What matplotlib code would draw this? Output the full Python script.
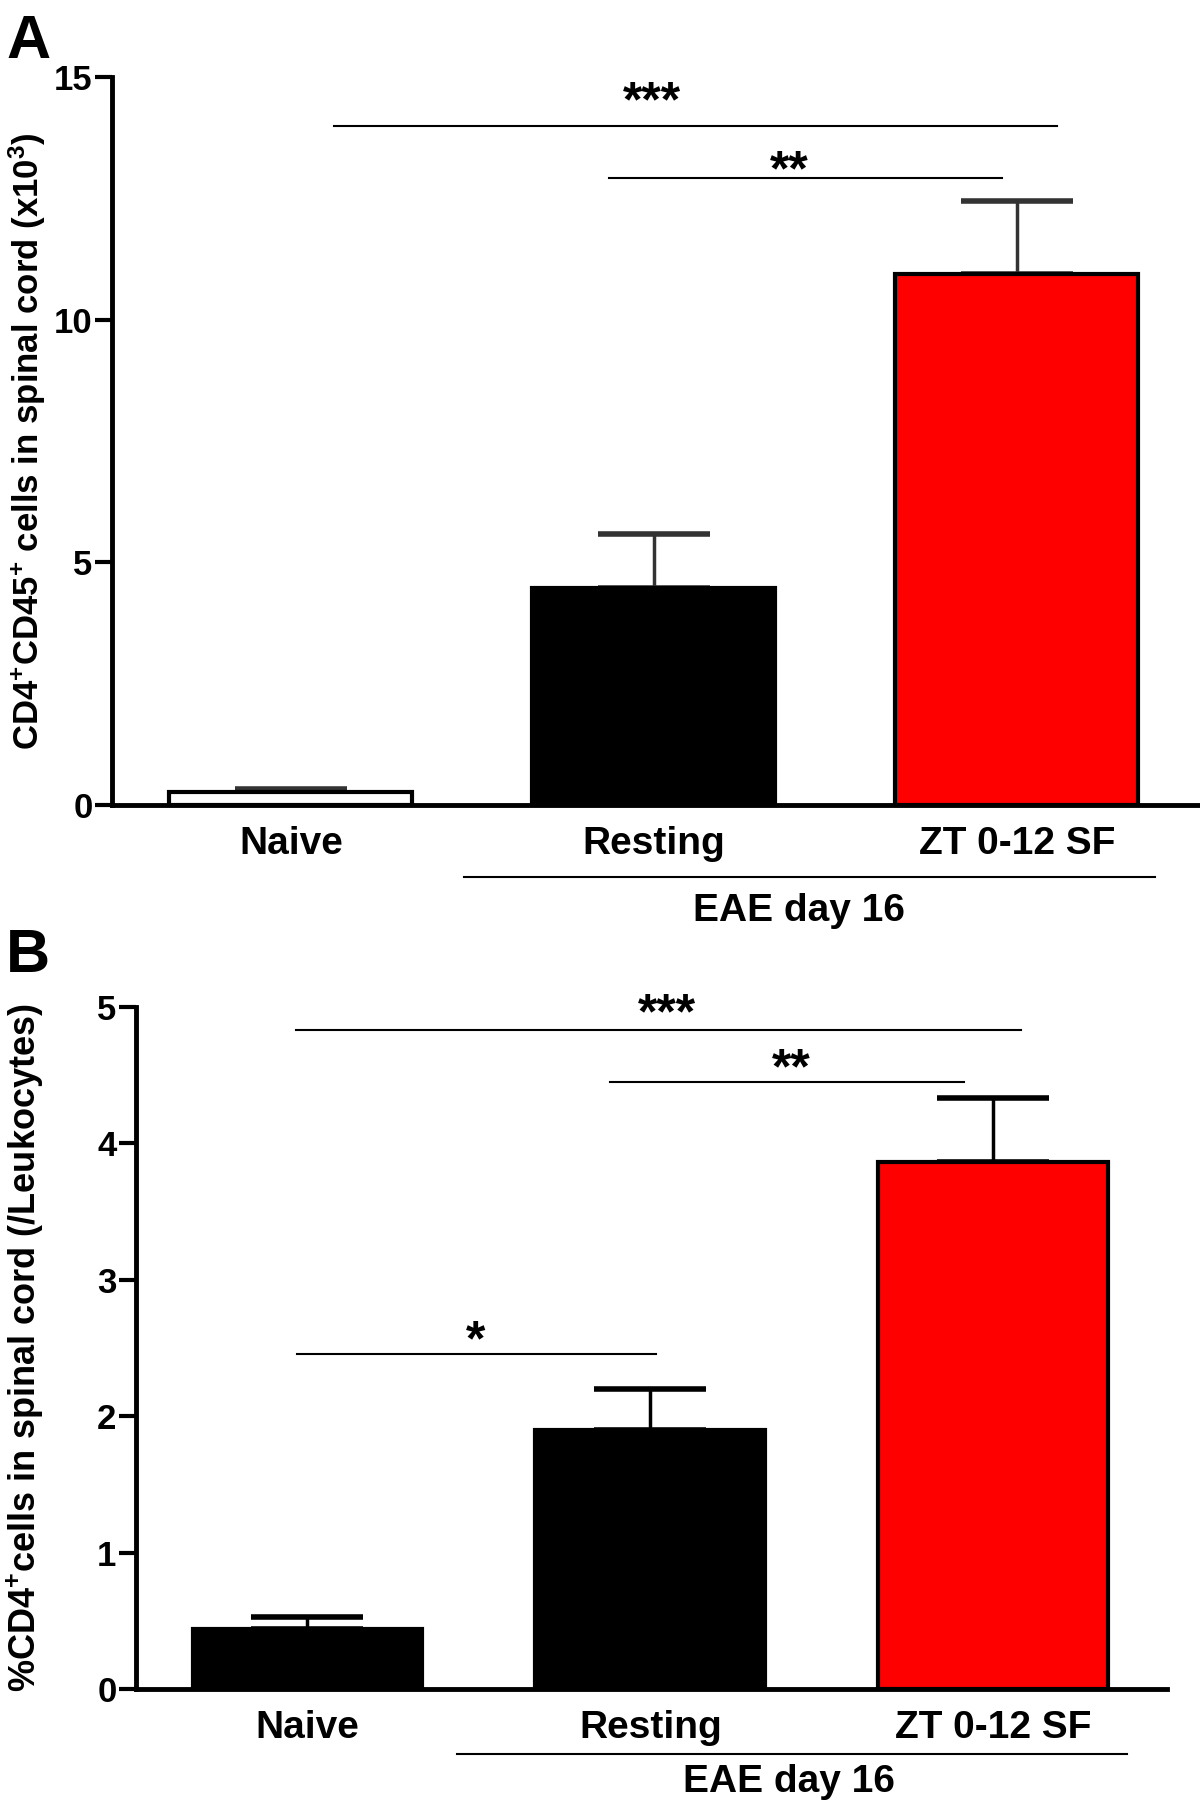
import matplotlib
matplotlib.use('Agg')
import matplotlib.pyplot as plt
import matplotlib.transforms as mtransforms

plt.rcParams['font.family'] = ['Liberation Sans', 'DejaVu Sans']
plt.rcParams['font.weight'] = 'bold'
plt.rcParams['mathtext.default'] = 'regular'

groups = ['Naive', 'Resting', 'ZT 0-12 SF']
group_label = 'EAE day 16'

# panel A: CD4+CD45+ cells (x10^3)
a_mean = [0.27, 4.47, 10.95]
a_err = [0.05, 1.12, 1.49]
a_colors = ['white', 'black', '#ff0000']
# (line start, line end, line y, stars, star x, star y)
a_sig = [(0.12, 2.11, 13.99, '***', 0.996, 14.67),
         (0.877, 1.96, 12.92, '**', 1.374, 13.25)]

# panel B: %CD4+ cells (/Leukocytes)
b_mean = [0.44, 1.90, 3.86]
b_err = [0.09, 0.30, 0.47]
b_colors = ['black', 'black', '#ff0000']
b_sig = [(-0.034, 2.08, 4.83, '***', 1.05, 5.02),
         (0.883, 1.916, 4.45, '**', 1.41, 4.61),
         (-0.03, 1.017, 2.455, '*', 0.49, 2.62)]

fig = plt.figure(figsize=(12, 18.04), dpi=100)
W, H = 1200, 1804


def make_axes(left, right, top, bottom):
    return fig.add_axes([left / W, 1 - bottom / H, (right - left) / W, (bottom - top) / H])


def draw_panel(ax, means, errs, colors, ecolor, sig, ymax, yticks, ylabel, ylabel_size,
               xlim, bracket, lab_x, lab_y, label_y_pos):
    x = range(len(means))
    ax.bar(x, means, width=0.67, color=colors, edgecolor='black', linewidth=3, zorder=2)
    ax.errorbar(x, means, yerr=[[0] * len(errs), errs], fmt='none', ecolor=ecolor,
                elinewidth=2.5, capsize=40, capthick=4, zorder=1)
    ax.set_xlim(*xlim)
    ax.set_ylim(0, ymax)
    ax.set_yticks(yticks)
    ax.set_xticks(list(x))
    ax.set_xticklabels(groups, fontsize=28, fontweight='bold')
    ax.tick_params(axis='x', length=0, pad=15)
    ax.tick_params(axis='y', length=12, width=3, labelsize=25, pad=2)
    for t in ax.get_yticklabels():
        t.set_fontweight('bold')
    for s in ['top', 'right']:
        ax.spines[s].set_visible(False)
    for s in ['left', 'bottom']:
        ax.spines[s].set_linewidth(3.5)
    ax.set_ylabel(ylabel, fontsize=ylabel_size, fontweight='bold')
    ax.yaxis.set_label_coords(label_y_pos, 0.5)

    for x0, x1, y, stars, sx, sy in sig:
        ax.plot([x0, x1], [y, y], color='black', lw=1.5, clip_on=False)
        # asterisks sit high in the font: shift the baseline down so the glyph centre lands on sy
        ax.annotate(stars, (sx, sy), xytext=(0, -17), textcoords='offset points',
                    ha='center', va='baseline', fontsize=36, fontweight='bold',
                    annotation_clip=False)

    trans = mtransforms.blended_transform_factory(ax.transData, ax.transAxes)
    ax.plot([bracket[0], bracket[1]], [bracket[2], bracket[2]], color='black', lw=1.5,
            transform=trans, clip_on=False)
    ax.text(lab_x, lab_y, group_label, transform=trans, ha='center', va='center',
            fontsize=28, fontweight='bold')


axA = make_axes(112, 1200, 77, 805)
draw_panel(axA, a_mean, a_err, a_colors, '#333333', a_sig, 15, [0, 5, 10, 15],
           r'CD4$^{+}$CD45$^{+}$ cells in spinal cord (x10$^{3}$)', 25, (-0.493, 2.505),
           (0.477, 2.38, -0.099), 1.40, -0.146, -0.059)

axB = make_axes(136, 1167, 1007, 1689)
draw_panel(axB, b_mean, b_err, b_colors, 'black', b_sig, 5, [0, 1, 2, 3, 4, 5],
           r'%CD4$^{+}$cells in spinal cord (/Leukocytes)', 26, (-0.5, 2.507),
           (0.436, 2.39, -0.096), 1.405, -0.136, -0.087)

fig.text(6 / W, 1 - 58 / H, 'A', fontsize=44, fontweight='bold', ha='left', va='baseline')
fig.text(6 / W, 1 - 972 / H, 'B', fontsize=44, fontweight='bold', ha='left', va='baseline')

fig.savefig('out.png', dpi=100)
